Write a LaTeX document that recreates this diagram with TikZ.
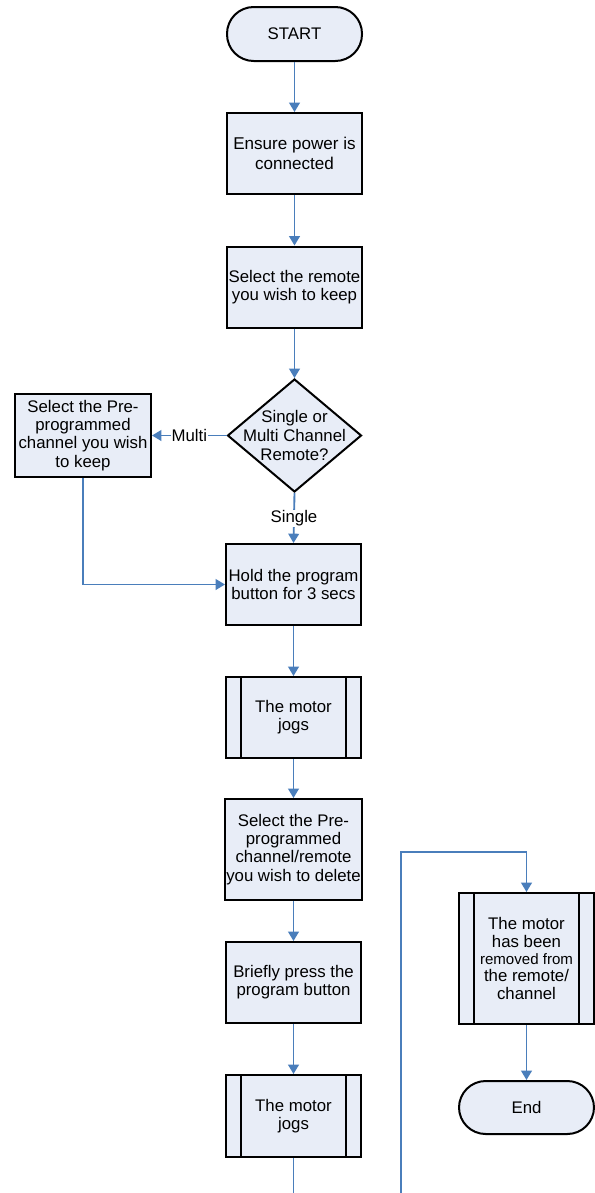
\documentclass[tikz,border=0pt]{standalone}
\usepackage{fontspec}
\setmainfont{Liberation Sans}
\usepackage{xcolor}
\usepackage{tikz}
\usetikzlibrary{shapes.geometric,arrows.meta}

\definecolor{boxfill}{HTML}{E8EDF7}
\definecolor{flowblue}{HTML}{4A7EBB}

\tikzset{
  stepbox/.style={draw=black,line width=1.5pt,fill=boxfill,minimum width=101.25pt,
    minimum height=60.75pt,align=center,inner sep=1pt,
    font=\fontsize{12.6}{13.6}\selectfont},
  termbox/.style={stepbox,minimum height=40.5pt,rounded corners=20pt},
  decbox/.style={diamond,draw=black,line width=1.5pt,fill=boxfill,
    minimum width=100.5pt,minimum height=84.75pt,inner sep=0pt},
  flow/.style={flowblue,line width=1.4pt,-{Triangle[width=8pt,length=7pt]}},
  flowline/.style={flowblue,line width=1.4pt},
  flowlabel/.style={fill=white,inner sep=0.5pt,text=black,
    font=\fontsize{12.6}{13.6}\selectfont}
}

\begin{document}
\begin{tikzpicture}[x=0.75pt,y=-0.75pt]
    \useasboundingbox (0,0) rectangle (594,1193);

    % main column
    \node[termbox] (start) at (294.5,34) {START};
    \node[stepbox,font=\fontsize{12.8}{15}\selectfont] (power) at (294.5,153.5)
      {Ensure power is\\connected};
    \node[stepbox] (remote) at (294.5,287) {Select the remote\\you wish to keep};
    \node[decbox] (choice) at (294.5,435.5) {};
    \node[align=center,font=\fontsize{12.6}{14}\selectfont] (choicetext) at (choice)
      {Single or\\Multi Channel\\Remote?};
    \node[stepbox,minimum width=102pt,minimum height=62.25pt] (keepch) at (83,435.5)
      {Select the Pre-\\programmed\\channel you wish\\to keep};
    \node[stepbox] (hold) at (293.5,584.5) {Hold the program\\button for 3 secs};
    \node[stepbox] (jogA) at (293.5,717.5) {The motor\\jogs};
    \node[stepbox,minimum height=75.75pt] (delch) at (293.5,849.5)
      {Select the Pre-\\programmed\\channel/remote\\you wish to delete};
    \node[stepbox] (press) at (293.5,982.5) {Briefly press the\\program button};
    \node[stepbox,minimum height=61.5pt] (jogB) at (293.5,1116) {The motor\\jogs};

    % right column
    \node[stepbox,minimum height=98.25pt,font=\fontsize{12.6}{13}\selectfont] (removed)
      at (526.5,958.5)
      {The motor\\has been\\{\fontsize{11.3}{13}\selectfont removed from}\\the remote/\\channel};
    \node[termbox,minimum height=39.75pt] (end) at (526.5,1107.5) {End};

    % predefined process bars
    \draw[line width=1.5pt] ([xshift=12pt]jogA.north west) -- ([xshift=12pt]jogA.south west);
    \draw[line width=1.5pt] ([xshift=-12pt]jogA.north east) -- ([xshift=-12pt]jogA.south east);
    \draw[line width=1.5pt] ([xshift=12pt]jogB.north west) -- ([xshift=12pt]jogB.south west);
    \draw[line width=1.5pt] ([xshift=-12pt]jogB.north east) -- ([xshift=-12pt]jogB.south east);
    \draw[line width=1.5pt] ([xshift=12pt]removed.north west) -- ([xshift=12pt]removed.south west);
    \draw[line width=1.5pt] ([xshift=-12pt]removed.north east) -- ([xshift=-12pt]removed.south east);

    \coordinate (jogend) at (293.5,1193);
    \coordinate (loopend) at (401,1193);
    \coordinate (looptop) at (401,852);

    % connectors
    \draw[flow] (start.south) -- (power.north);
    \draw[flow] (power.south) -- (remote.north);
    \draw[flow] (remote.south) -- (choice.north);
    \draw[flow] (choice.west) -- node[flowlabel] {Multi} (keepch.east);
    \draw[flow] (choice.south) -- node[flowlabel] {Single} (hold.north);
    \draw[flow] (keepch.south) |- (hold.west);
    \draw[flow] (hold.south) -- (jogA.north);
    \draw[flow] (jogA.south) -- (delch.north);
    \draw[flow] (delch.south) -- (press.north);
    \draw[flow] (press.south) -- (jogB.north);
    \draw[flowline] (jogB.south) -- (jogend);
    \draw[flow] (loopend) -- (looptop) -| (removed.north);
    \draw[flow] (removed.south) -- (end.north);
  \end{tikzpicture}
\end{document}
